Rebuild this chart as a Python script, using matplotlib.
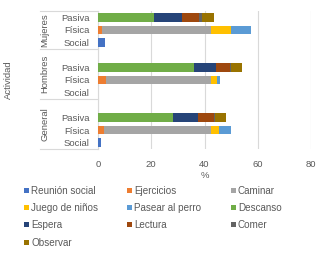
import numpy as np
import matplotlib as mpl
mpl.use("Agg")
import matplotlib.pyplot as plt
from matplotlib.patches import Rectangle

# --- data (percent), rows top to bottom ---------------------------------------
groups = ["Mujeres", "Hombres", "General"]
activities = ["Pasiva", "Física", "Social"]
series = ["Reunión social", "Ejercicios", "Caminar", "Juego de niños",
          "Pasear al perro", "Descanso", "Espera", "Lectura", "Comer", "Observar"]
colors = ["#4472C4", "#ED7D31", "#A5A5A5", "#FFC000", "#5B9BD5",
          "#70AD47", "#264478", "#9E480E", "#636363", "#997300"]

# one list per series: [M-Pasiva, M-Física, M-Social, H-Pasiva, H-Física, H-Social,
#                       G-Pasiva, G-Física, G-Social]
reunion_social = [0, 0, 2.6, 0, 0, 0, 0, 0, 1.0]
ejercicios     = [0, 1.4, 0, 0, 2.9, 0, 0, 2.3, 0]
caminar        = [0, 41.2, 0, 0, 39.7, 0, 0, 40.3, 0]
juego_ninos    = [0, 7.2, 0, 0, 2.2, 0, 0, 2.8, 0]
pasear_perro   = [0, 7.6, 0, 0, 0.9, 0, 0, 4.4, 0]
descanso       = [21.2, 0, 0, 36.0, 0, 0, 28.0, 0, 0]
espera         = [10.4, 0, 0, 8.5, 0, 0, 9.5, 0, 0]
lectura        = [6.3, 0, 0, 5.1, 0, 0, 6.0, 0, 0]
comer          = [1.0, 0, 0, 0.2, 0, 0, 0.6, 0, 0]
observar       = [4.6, 0, 0, 4.4, 0, 0, 4.0, 0, 0]

values = [reunion_social, ejercicios, caminar, juego_ninos, pasear_perro,
          descanso, espera, lectura, comer, observar]

# slot positions: Mujeres has no blank slot, others have a blank slot on top
ypos = [0, 1, 2, 4, 5, 6, 8, 9, 10]
group_centers = [1, 4.5, 8.5]

TXT = "#595959"
plt.rcParams.update({
    "font.family": ["Liberation Sans", "DejaVu Sans"],
    "font.size": 6.8,
    "text.color": TXT,
    "xtick.color": TXT,
    "ytick.color": TXT,
})

fig = plt.figure(figsize=(3.24, 2.54), dpi=100)
W, H = 324.0, 254.0
ax = fig.add_axes([98 / W, 1 - 149 / H, 213 / W, 138 / H])

left = np.zeros(len(ypos))
for name, col, vals in zip(series, colors, values):
    v = np.array(vals, dtype=float)
    ax.barh(ypos, v, left=left, height=0.68, color=col, label=name, zorder=3)
    left += v

ax.set_xlim(0, 80)
ax.set_ylim(10.5, -0.5)
ax.set_xticks([0, 20, 40, 60, 80])
ax.set_yticks(ypos)
ax.set_yticklabels(activities * 3)
ax.tick_params(axis="both", length=0)
ax.tick_params(axis="x", pad=8)
ax.tick_params(axis="y", pad=6)
ax.grid(axis="x", color="#D9D9D9", lw=0.8, zorder=0)
for s in ["top", "right", "bottom"]:
    ax.spines[s].set_visible(False)
ax.spines["left"].set_color("#D9D9D9")
ax.spines["left"].set_linewidth(0.8)

# group separators and labels in the category area
tr = ax.get_yaxis_transform()
x0 = (40 - 98) / 213.0
for yb in [-0.5, 2.5, 6.5, 10.5]:
    ax.plot([x0, 0], [yb, yb], color="#D9D9D9", lw=0.8, transform=tr,
            clip_on=False)
for g, yc in zip(groups, group_centers):
    ax.text((45 - 98) / 213.0, yc, g, rotation=90, ha="center", va="center",
            transform=tr, color=TXT)

fig.text(8 / W, 1 - 80 / H, "Actividad", rotation=90, ha="center",
         va="center", color=TXT)
fig.text(204.5 / W, 1 - 176 / H, "%", ha="center", va="center", color=TXT)

# legend, laid out row-wise like the original
col_x = [24, 127, 231]
row_y = [190, 207.5, 224.5, 242]
for i, (name, col) in enumerate(zip(series, colors)):
    cx = col_x[i % 3]
    cy = row_y[i // 3]
    fig.add_artist(Rectangle((cx / W, 1 - (cy + 2.5) / H), 5 / W, 5 / H,
                             transform=fig.transFigure, color=col, lw=0))
    fig.text((cx + 7) / W, 1 - (cy + 0.5) / H, name, ha="left", va="center",
             color=TXT, fontsize=7.1)

fig.savefig("out.png", dpi=100)
